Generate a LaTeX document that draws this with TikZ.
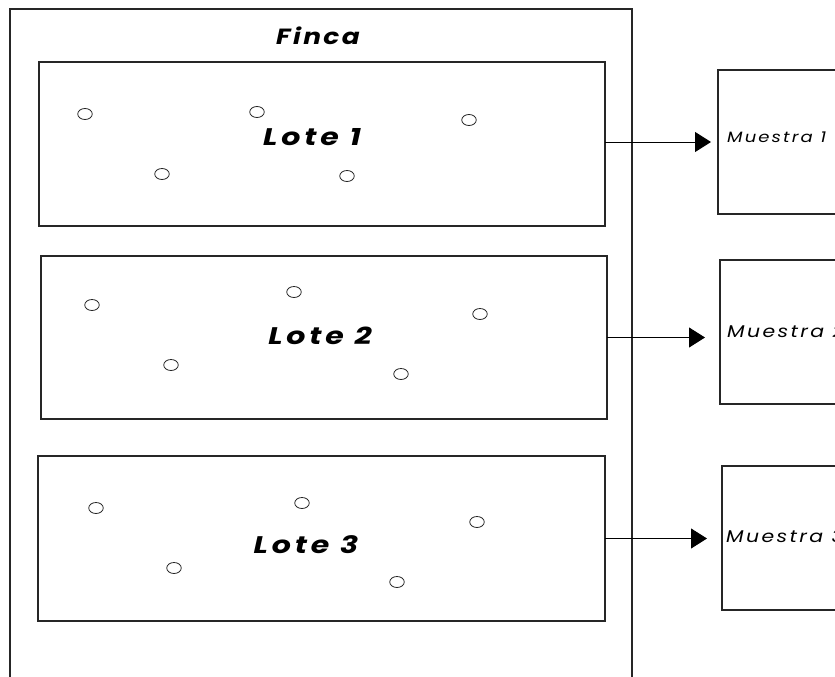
\documentclass[tikz,border=0pt]{standalone}
\usepackage{fontspec}
\setmainfont{Poppins}
\usetikzlibrary{arrows.meta,shapes.geometric}
\tikzset{
  box/.style={draw=black!85, line width=1.2pt, rectangle, inner sep=0pt, outer sep=0pt},
  hole/.style={draw=black!85, line width=0.8pt, ellipse, minimum width=14.5pt, minimum height=11pt, inner sep=0pt},
  bigtxt/.style={font=\fontsize{24}{24}\selectfont\bfseries\itshape\addfontfeature{FakeStretch=1.25,LetterSpace=16}},
  smalltxt/.style={font=\fontsize{15}{15}\selectfont\itshape\addfontfeature{FakeStretch=1.2,LetterSpace=14}, anchor=base west, inner sep=0pt},
  midtxt/.style={font=\fontsize{17}{17}\selectfont\itshape\addfontfeature{FakeStretch=1.2,LetterSpace=14}, anchor=base west, inner sep=0pt},
  arr/.style={draw=black, line width=1pt, -{Triangle[length=16pt,width=20pt]}}
}
\begin{document}
\begin{tikzpicture}[x=1pt,y=-1pt]
\clip (0,0) rectangle (835,677);
\fill[white] (0,0) rectangle (835,677);
% outer farm
\node[box, minimum width=622pt, minimum height=700pt] (finca) at (321,359) {};
\node[font=\fontsize{22}{22}\selectfont\bfseries\itshape\addfontfeature{FakeStretch=1.2,LetterSpace=11}] (fincat) at (318,36) {Finca};
% lots
\node[box, minimum width=566pt, minimum height=164pt] (l1) at (322,144) {};
\node[box, minimum width=566pt, minimum height=163pt] (l2) at (324,337.5) {};
\node[box, minimum width=567pt, minimum height=165pt] (l3) at (321.5,538.5) {};
\node[bigtxt] (l1t) at (312,137) {Lote 1};
\node[bigtxt] (l2t) at (320,336) {Lote 2};
\node[bigtxt] (l3t) at (306,545) {Lote 3};
% sampling points
\node[hole] (p11) at (85,114) {};
\node[hole] (p12) at (257,112) {};
\node[hole] (p13) at (469,120) {};
\node[hole] (p14) at (162,174) {};
\node[hole] (p15) at (347,176) {};
\node[hole] (p21) at (92,305) {};
\node[hole] (p22) at (294,292) {};
\node[hole] (p23) at (480,314) {};
\node[hole] (p24) at (171,365) {};
\node[hole] (p25) at (401,374) {};
\node[hole] (p31) at (96,508) {};
\node[hole] (p32) at (302,503) {};
\node[hole] (p33) at (477,522) {};
\node[hole] (p34) at (174,568) {};
\node[hole] (p35) at (397,582) {};
% samples
\node[box, minimum width=160pt, minimum height=144pt] (m1) at (798,142) {};
\node[box, minimum width=160pt, minimum height=144pt] (m2) at (800,332) {};
\node[box, minimum width=160pt, minimum height=144pt] (m3) at (802,538) {};
\node[smalltxt] (m1t) at (727,142) {Muestra 1};
\node[midtxt] (m2t) at (727,337) {Muestra 2};
\node[midtxt] (m3t) at (726,542) {Muestra 3};
% arrows
\draw[arr, shorten >=7pt] (l1.east |- m1.west) -- (m1.west);
\draw[arr, shorten >=15pt] (l2.east) -- (l2.east -| m2.west);
\draw[arr, shorten >=15pt] (l3.east) -- (l3.east -| m3.west);
\end{tikzpicture}
\end{document}
